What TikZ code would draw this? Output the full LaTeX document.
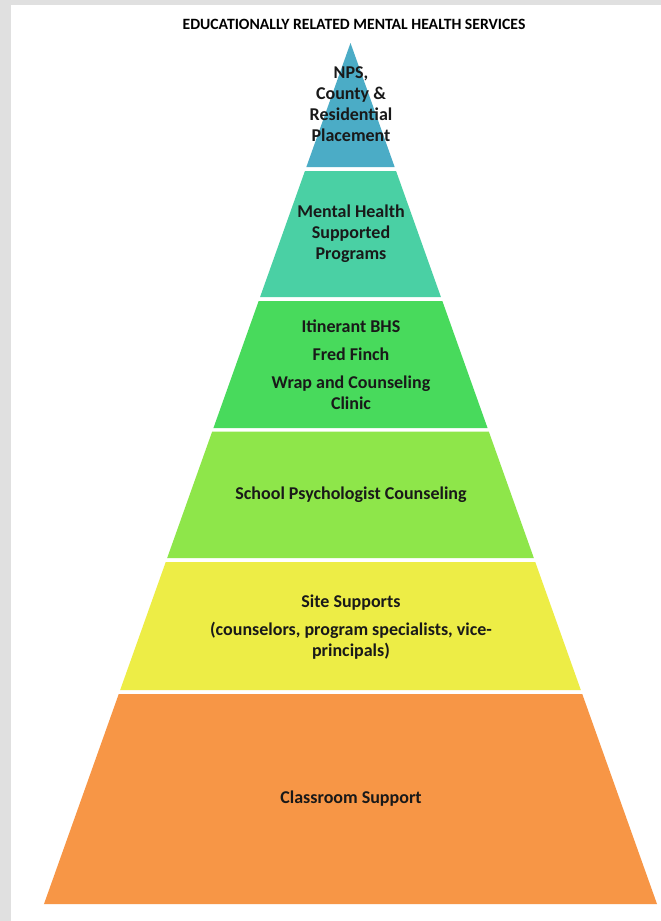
\documentclass[tikz,border=0pt]{standalone}
\usepackage{fontspec}
\setmainfont{Carlito}
\usepackage{tikz}

\definecolor{pagegray}{RGB}{224,224,224}
\definecolor{tierA}{RGB}{75,172,198}
\definecolor{tierB}{RGB}{74,208,164}
\definecolor{tierC}{RGB}{72,218,92}
\definecolor{tierD}{RGB}{142,230,74}
\definecolor{tierE}{RGB}{237,237,70}
\definecolor{tierF}{RGB}{247,150,70}

\begin{document}
\begin{tikzpicture}[x=1pt,y=-1pt,font=\bfseries]
  \tikzstyle{tier}=[align=center,text=black!90,inner sep=0pt,
                    font=\fontsize{18}{21}\selectfont\bfseries]
  \tikzstyle{heading}=[inner sep=0pt,font=\fontsize{15.7}{18}\selectfont\bfseries]

  \useasboundingbox (0,0) rectangle (661,921);
  \fill[pagegray] (0,0) rectangle (661,921);
  \fill[white] (11,5) rectangle (661,921);

  % tiers of the pyramid: top y / bottom y / colour
  \foreach \ya/\yb/\col in {43/167/tierA, 171/297/tierB, 301/428/tierC,
                            431.5/558/tierD, 562/690/tierE, 694/904/tierF} {
    \pgfmathsetmacro\wa{0.35598*(\ya-43)}
    \pgfmathsetmacro\wb{0.35598*(\yb-43)}
    \fill[\col] ({350.5-\wa},\ya) -- ({350.5+\wa},\ya)
                -- ({350.5+\wb},\yb) -- ({350.5-\wb},\yb) -- cycle;
  }

  \node[heading] (T)  at (354,24.5) {EDUCATIONALLY RELATED MENTAL HEALTH SERVICES};

  \node[tier] (NP) at (351,104) {NPS,\\ County \&\\ Residential\\ Placement};
  \node[tier] (MH) at (351,234) {Mental Health\\ Supported\\ Programs};
  \node[tier] (IB) at (351,365) {Itinerant BHS\\[7pt] Fred Finch\\[7pt] Wrap and Counseling\\ Clinic};
  \node[tier] (SP) at (351,495) {School Psychologist Counseling};
  \node[tier] (SS) at (351,627) {Site Supports\\[7pt] (counselors, program specialists, vice-\\ principals)};
  \node[tier] (CS) at (351,799) {Classroom Support};

\end{tikzpicture}
\end{document}
